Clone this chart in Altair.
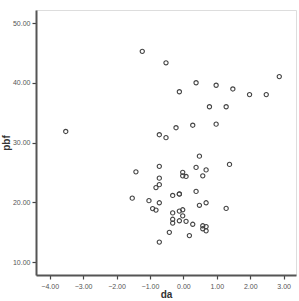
import altair as alt
import pandas as pd

da = [-1.23, -0.52, 0.38, -0.12, 0.98, 1.48, 1.98, 2.48, 2.87, 0.78, 1.28,
      -3.52, -0.22, 0.28, 0.98, -0.72, -0.52, 0.48, 0.38, 1.38, -1.42, -0.72,
      -0.02, -0.02, 0.08, 0.68, 0.58, -0.72, -0.72, -0.82, -0.32, -0.12, -0.12,
      0.38, -1.53, -1.03, -0.72, 0.48, 0.68, 1.28, -0.92, -0.82, -0.32, -0.12,
      -0.02, -0.02, -0.32, -0.12, -0.32, 0.08, 0.28, 0.58, 0.68, 0.58, 0.68,
      -0.42, 0.18, -0.72]
pbf = [45.28, 43.36, 40.02, 38.51, 39.60, 38.98, 38.04, 38.04, 41.05, 36.00, 36.00,
       31.86, 32.49, 32.91, 33.08, 31.32, 30.82, 27.73, 25.84, 26.35, 25.10, 26.02,
       25.02, 24.43, 24.33, 25.42, 24.43, 24.05, 22.96, 22.46, 21.15, 21.37, 21.40,
       21.82, 20.70, 20.28, 19.92, 19.50, 19.92, 18.98, 18.95, 18.70, 18.23, 18.53,
       18.75, 17.73, 17.16, 16.91, 16.52, 16.81, 16.32, 16.07, 15.94, 15.57, 15.22,
       14.97, 14.43, 13.34]

x_ticks = [-4, -3, -2, -1, 0, 1, 2, 3]
y_ticks = [10, 20, 30, 40, 50]

df = pd.DataFrame({"da": da, "pbf": pbf})

font = "Liberation Sans"

chart = alt.Chart(df).mark_point(
    shape="circle", filled=False, size=18, strokeWidth=1.1, color="#444444", opacity=1
).encode(
    x=alt.X("da:Q",
            scale=alt.Scale(domain=[-4.41, 3.37], nice=False, zero=False),
            axis=alt.Axis(values=x_ticks, format=".2f", title="da", grid=False,
                          labelFont=font, labelFontSize=7, labelColor="#555555",
                          labelPadding=3, tickSize=4, tickColor="#444444", tickWidth=1.2,
                          domainColor="#555555", domainWidth=2,
                          titleFont=font, titleFontSize=10, titleFontWeight="bold",
                          titleColor="#333333", titlePadding=0)),
    y=alt.Y("pbf:Q",
            scale=alt.Scale(domain=[7.83, 52.2], nice=False, zero=False),
            axis=alt.Axis(values=y_ticks, format=".2f", title="pbf", grid=False,
                          labelFont=font, labelFontSize=7, labelColor="#555555",
                          labelPadding=2, tickSize=4, tickColor="#444444", tickWidth=1.2,
                          domainColor="#555555", domainWidth=2,
                          titleFont=font, titleFontSize=10, titleFontWeight="bold",
                          titleColor="#333333", titlePadding=1)),
).properties(
    width=260, height=265,
    autosize=alt.AutoSizeParams(type="none"),
    padding={"left": 36, "top": 10, "right": 3, "bottom": 26},
).configure_view(
    stroke="#777777", strokeWidth=1
).configure(background="white")

chart.save("out.html", embed_options={"renderer": "svg", "actions": False})
